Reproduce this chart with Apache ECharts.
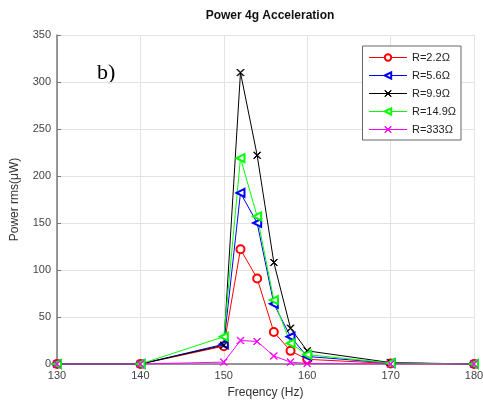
<!DOCTYPE html>
<html>
<head>
    <meta charset="utf-8">
    <title>Power 4g Acceleration</title>
    <style>
        body { margin: 0; }
        #chart { width: 483px; height: 401px; background: #fff; }
    </style>
</head>
<body>
    <div id="chart"></div>
    <script src="https://cdn.jsdelivr.net/npm/echarts@6/dist/echarts.min.js"></script>
    <script>
        // frequency points (Hz)
        var freq = [130, 140, 150, 152, 154, 156, 158, 160, 170, 180];

        var names = ['R=2.2\u03A9', 'R=5.6\u03A9', 'R=9.9\u03A9', 'R=14.9\u03A9', 'R=333\u03A9'];
        var colors = ['#ff0000', '#0000ff', '#000000', '#00ff00', '#ff00ff'];
        var r2_2  = [0, 0, 19, 122, 91, 34, 14, 5, 0.5, 0];
        var r5_6  = [0, 0, 21, 182, 150, 64, 29, 8, 1, 0];
        var r9_9  = [0, 0, 20, 310, 222, 108, 38, 14, 1.5, 0];
        var r14_9 = [0, 0, 29, 219, 157, 68, 22, 10, 1, 0];
        var r333  = [0, 0, 2, 25, 24, 8.5, 2, 0.5, 0, 0];

        // thin "x" marker
        var cross = 'path://M0,0.6L0.6,0L5,4.4L9.4,0L10,0.6L5.6,5L10,9.4L9.4,10L5,5.6L0.6,10L0,9.4L4.4,5Z';

        function pairs(vals) {
            return freq.map(function (f, i) { return [f, vals[i]]; });
        }

        function mk(i, vals, symbol, rotate, size) {
            var color = colors[i];
            return {
                name: names[i],
                type: 'line',
                data: pairs(vals),
                symbol: symbol,
                symbolSize: size,
                symbolRotate: rotate,
                showAllSymbol: true,
                lineStyle: { color: color, width: 1 },
                itemStyle: { color: color, borderColor: color, borderWidth: 1 },
                emphasis: { disabled: true },
                animation: false
            };
        }

        var chart = echarts.init(document.getElementById('chart'));
        var option = {
            animation: false,
            title: {
                text: 'Power 4g Acceleration',
                left: 265, top: 5, textAlign: 'center',
                textStyle: { fontFamily: 'Liberation Sans', fontSize: 12, fontWeight: 'bold', color: '#111' }
            },
            graphic: [{
                type: 'text', left: 97, top: 62,
                style: { text: 'b)', font: '22px "Liberation Serif"', fill: '#000' }
            }],
            legend: {
                orient: 'vertical',
                right: 22, top: 46,
                itemWidth: 38, itemHeight: 8, itemGap: 7,
                padding: [6, 5, 5, 6],
                borderColor: '#666', borderWidth: 1,
                backgroundColor: '#fff',
                itemStyle: { borderWidth: 1 },
                textStyle: { fontFamily: 'Liberation Sans', fontSize: 11, color: '#222' },
                data: names.map(function (n, i) {
                    return { name: n, lineStyle: { color: colors[i], width: 1 } };
                })
            },
            grid: { left: 57, right: 9, top: 35, bottom: 37, containLabel: false, outerBoundsMode: 'none' },
            xAxis: {
                type: 'value', min: 130, max: 180, interval: 10,
                name: 'Freqency (Hz)', nameLocation: 'middle', nameGap: 23,
                nameTextStyle: { fontFamily: 'Liberation Sans', fontSize: 12, color: '#333' },
                axisLine: { lineStyle: { color: '#777', width: 1.5 } },
                axisTick: { inside: true, length: 4, lineStyle: { color: '#777' } },
                axisLabel: { fontFamily: 'Liberation Sans', fontSize: 11, color: '#444', margin: 6 },
                splitLine: { show: true, lineStyle: { color: '#e3e3e3' } }
            },
            yAxis: {
                type: 'value', min: 0, max: 350, interval: 50,
                name: 'Power rms(\u03BCW)', nameLocation: 'middle', nameGap: 36,
                nameTextStyle: { fontFamily: 'Liberation Sans', fontSize: 12, color: '#333' },
                axisLine: { show: true, lineStyle: { color: '#777', width: 1.5 } },
                axisTick: { show: true, inside: true, length: 4, lineStyle: { color: '#777' } },
                axisLabel: { fontFamily: 'Liberation Sans', fontSize: 11, color: '#444', margin: 6 },
                splitLine: { show: true, lineStyle: { color: '#e3e3e3' } }
            },
            series: [
                mk(0, r2_2, 'emptyCircle', 0, 8),
                mk(1, r5_6, 'emptyTriangle', 90, 8),
                mk(2, r9_9, cross, 0, 7),
                mk(3, r14_9, 'emptyTriangle', 90, 8),
                mk(4, r333, cross, 0, 7)
            ]
        };
        chart.setOption(option);
    </script>
</body>
</html>
